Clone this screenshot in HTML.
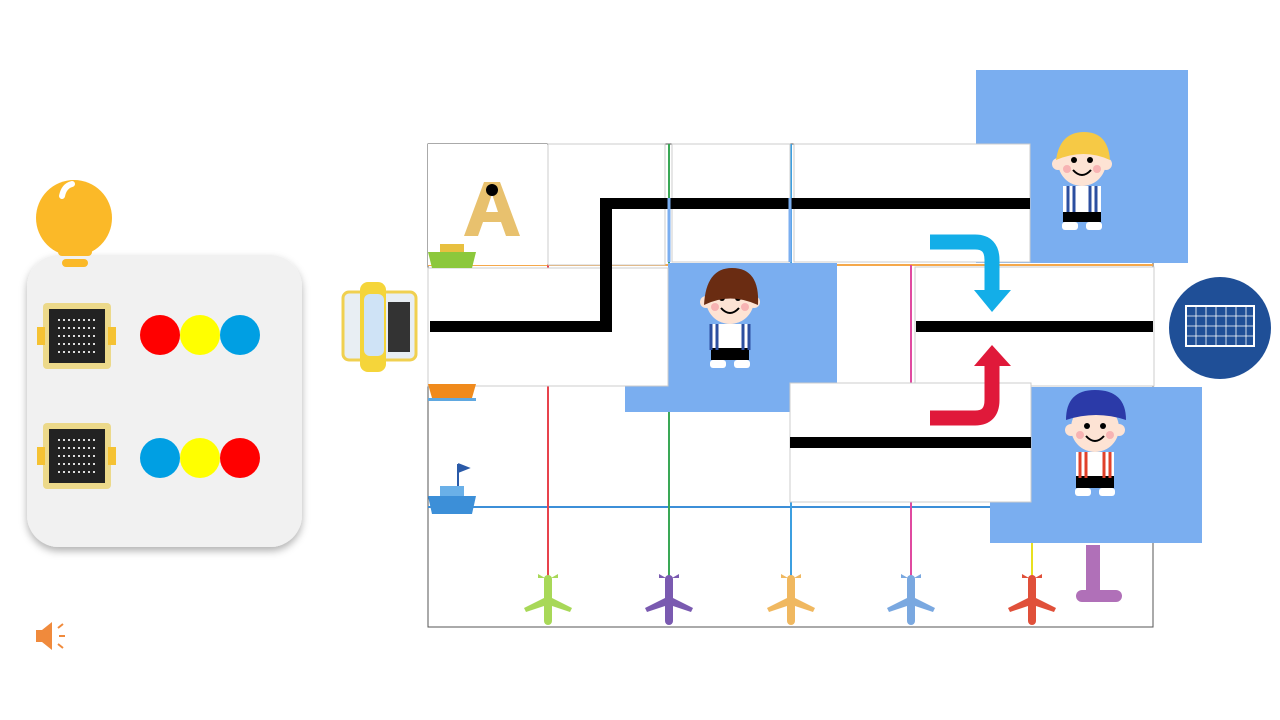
<!DOCTYPE html>
<html><head><style>
html,body{margin:0;padding:0;background:#fff;width:1280px;height:720px;overflow:hidden;font-family:"Liberation Sans",sans-serif}
</style></head><body>
<svg width="1280" height="720" viewBox="0 0 1280 720" xmlns="http://www.w3.org/2000/svg">
<defs>
<filter id="sh" x="-10%" y="-10%" width="120%" height="120%"><feDropShadow dx="0" dy="4" stdDeviation="4" flood-color="#000" flood-opacity="0.3"/></filter>
<g id="kid">
<circle cx="0" cy="-28" r="24" fill="#fde3d4"/>
<circle cx="-24" cy="-26" r="6" fill="#fde3d4"/><circle cx="24" cy="-26" r="6" fill="#fde3d4"/>
<circle cx="-8" cy="-30" r="3" fill="#000"/><circle cx="8" cy="-30" r="3" fill="#000"/>
<path d="M-9,-20 Q0,-10 9,-20" stroke="#000" stroke-width="2" fill="none"/>
<circle cx="-15" cy="-21" r="4" fill="#f7b3b3"/><circle cx="15" cy="-21" r="4" fill="#f7b3b3"/>
<rect x="-19" y="-4" width="38" height="26" fill="#fff"/>
<rect x="-19" y="20" width="38" height="12" fill="#000"/>
<rect x="-20" y="32" width="16" height="8" rx="3" fill="#fff"/><rect x="4" y="32" width="16" height="8" rx="3" fill="#fff"/>
</g>
<g id="plane">
<rect x="-4" y="-25" width="8" height="50" rx="4"/>
<path d="M-4,-2 L-24,8 L-22,12 L-4,6 Z M4,-2 L24,8 L22,12 L4,6 Z M-3,-22 L-10,-26 L-10,-22 Z M3,-22 L10,-26 L10,-22 Z"/>
</g>
</defs>

<rect x="27" y="255" width="275" height="292" rx="32" fill="#f1f1f1" filter="url(#sh)"/>
<circle cx="74" cy="218" r="38" fill="#fbb928"/>
<path d="M62,196 Q64,186 72,184" stroke="#fff" stroke-width="6" fill="none" stroke-linecap="round"/>
<rect x="58" y="248" width="34" height="8" rx="4" fill="#fbb928"/>
<rect x="62" y="259" width="26" height="8" rx="4" fill="#fbb928"/>
<g>
<rect x="43" y="303" width="68" height="66" rx="4" fill="#ecd98a"/>
<rect x="49" y="309" width="56" height="54" fill="#222"/>
<rect x="37" y="327" width="8" height="18" fill="#f5c233"/><rect x="108" y="327" width="8" height="18" fill="#f5c233"/>
<rect x="43" y="423" width="68" height="66" rx="4" fill="#ecd98a"/>
<rect x="49" y="429" width="56" height="54" fill="#222"/>
<rect x="37" y="447" width="8" height="18" fill="#f5c233"/><rect x="108" y="447" width="8" height="18" fill="#f5c233"/>
<path d="M58,320 H96 M58,328 H96 M58,336 H96 M58,344 H96 M58,352 H96 M58,440 H96 M58,448 H96 M58,456 H96 M58,464 H96 M58,472 H96" stroke="#ddd" stroke-width="2" stroke-dasharray="2 3"/>
</g>
<circle cx="160" cy="335" r="20" fill="#f00"/><circle cx="200" cy="335" r="20" fill="#ff0"/><circle cx="240" cy="335" r="20" fill="#009fe3"/>
<circle cx="160" cy="458" r="20" fill="#009fe3"/><circle cx="200" cy="458" r="20" fill="#ff0"/><circle cx="240" cy="458" r="20" fill="#f00"/>

<path d="M36,630 L42,630 L52,622 L52,650 L42,642 L36,642 Z" fill="#f08a3c"/>
<path d="M58,628 L63,624 M59,636 L65,636 M58,644 L63,648" stroke="#f08a3c" stroke-width="2"/>

<rect x="343" y="292" width="73" height="68" rx="6" fill="#e8eef3" stroke="#f0d050" stroke-width="3"/>
<rect x="360" y="282" width="26" height="90" rx="8" fill="#f5d53a"/>
<rect x="364" y="294" width="20" height="62" rx="6" fill="#cfe3f6"/>
<rect x="388" y="302" width="22" height="50" fill="#333"/>

<rect x="428" y="144" width="725" height="483" fill="#fff" stroke="#555" stroke-width="1"/>
<line x1="428" y1="265" x2="1153" y2="265" stroke="#f5a84a" stroke-width="2"/>
<line x1="428" y1="507" x2="1153" y2="507" stroke="#3c8fd8" stroke-width="2"/>
<line x1="548" y1="265" x2="548" y2="580" stroke="#e8434c" stroke-width="2"/>
<line x1="669" y1="144" x2="669" y2="580" stroke="#3aa856" stroke-width="2"/>
<line x1="791" y1="144" x2="791" y2="580" stroke="#3c9fe0" stroke-width="2"/>
<line x1="911" y1="265" x2="911" y2="580" stroke="#e04aa0" stroke-width="2"/>
<line x1="1032" y1="500" x2="1032" y2="580" stroke="#e8e020" stroke-width="2"/>

<rect x="976" y="70" width="212" height="193" fill="#7aaef0"/>
<rect x="668" y="263" width="169" height="120" fill="#7aaef0"/>
<rect x="625" y="380" width="165" height="32" fill="#7aaef0"/>
<rect x="990" y="387" width="212" height="156" fill="#7aaef0"/>

<g fill="#fff" stroke="#ccc" stroke-width="1">
<rect x="428" y="144" width="119" height="121" stroke="none"/>
<rect x="548" y="144" width="117" height="121"/>
<rect x="672" y="144" width="118" height="118"/>
<rect x="794" y="144" width="236" height="118"/>
<rect x="428" y="268" width="240" height="118"/>
<rect x="915" y="267" width="239" height="119"/>
<rect x="790" y="383" width="241" height="119"/>
</g>

<g fill="#000">
<rect x="600" y="198" width="430" height="11"/>
<rect x="600" y="198" width="12" height="134"/>
<rect x="430" y="321" width="182" height="11"/>
<rect x="916" y="321" width="237" height="11"/>
<rect x="790" y="437" width="241" height="11"/>
</g>
<line x1="790" y1="198" x2="790" y2="262" stroke="#7aaef0" stroke-width="3"/>
<line x1="669" y1="198" x2="669" y2="262" stroke="#7aaef0" stroke-width="3"/>

<path d="M930,242 L975,242 Q992,242 992,260 L992,290" stroke="#13aee8" stroke-width="15" fill="none"/>
<path d="M974,290 L1011,290 L992,312 Z" fill="#13aee8"/>
<path d="M930,418 L975,418 Q992,418 992,400 L992,366" stroke="#e0193a" stroke-width="15" fill="none"/>
<path d="M974,366 L1011,366 L992,345 Z" fill="#e0193a"/>

<circle cx="1220" cy="328" r="51" fill="#1f4f97"/>
<rect x="1186" y="306" width="68" height="40" fill="none" stroke="#fff" stroke-width="2"/>
<path d="M1196,306 V346 M1206,306 V346 M1216,306 V346 M1226,306 V346 M1236,306 V346 M1246,306 V346 M1186,316 H1254 M1186,326 H1254 M1186,336 H1254" stroke="#fff" stroke-width="0.8"/>

<use href="#kid" transform="translate(1082,190)"/>
<path d="M1056,160 Q1060,132 1084,132 Q1108,132 1110,160 Q1084,148 1056,160 Z" fill="#f6c945"/>
<rect x="1063" y="186" width="38" height="26" fill="#fff"/>
<path d="M1068,186 V212 M1074,186 V212 M1090,186 V212 M1096,186 V212" stroke="#2c4fa0" stroke-width="3"/>
<use href="#kid" transform="translate(730,328)"/>
<path d="M704,305 Q706,268 732,268 Q760,268 758,305 Q730,292 704,305 Z" fill="#6a2c12"/>
<path d="M711,324 V350 M717,324 V350 M743,324 V350 M749,324 V350" stroke="#2c4fa0" stroke-width="3"/>
<use href="#kid" transform="translate(1095,456)"/>
<path d="M1066,420 Q1066,390 1095,390 Q1126,390 1126,420 Q1096,410 1066,420 Z" fill="#2b3aa8"/>
<path d="M1080,452 V478 M1086,452 V478 M1104,452 V478 M1110,452 V478" stroke="#e0402a" stroke-width="3"/>

<path d="M464,236 L484,182 L500,182 L520,236 L506,236 L501,222 L483,222 L478,236 Z M486,212 L498,212 L492,194 Z" fill="#e8c16e" fill-rule="evenodd"/>
<circle cx="492" cy="190" r="6" fill="#000"/>
<rect x="1086" y="545" width="14" height="50" fill="#b070b8"/>
<rect x="1076" y="590" width="46" height="12" rx="6" fill="#b070b8"/>

<path d="M428,252 L476,252 L472,268 L432,268 Z" fill="#8cc83c"/>
<rect x="440" y="244" width="24" height="8" fill="#e8c040"/>
<path d="M428,384 L476,384 L472,398 L432,398 Z" fill="#f08a1c"/>
<rect x="428" y="398" width="48" height="3" fill="#60a8e0"/>
<path d="M428,496 L476,496 L472,514 L432,514 Z" fill="#3c8fd8"/>
<rect x="440" y="486" width="24" height="10" fill="#6ab0e8"/>
<path d="M458,464 L458,486 M458,464 L468,468 L458,472" stroke="#2a5aa8" stroke-width="2" fill="#2a5aa8"/>

<use href="#plane" transform="translate(548,600)" fill="#a8d858"/>
<use href="#plane" transform="translate(669,600)" fill="#7a5ab0"/>
<use href="#plane" transform="translate(791,600)" fill="#f0b860"/>
<use href="#plane" transform="translate(911,600)" fill="#7aa8e0"/>
<use href="#plane" transform="translate(1032,600)" fill="#e0503a"/>
</svg>
</body></html>
